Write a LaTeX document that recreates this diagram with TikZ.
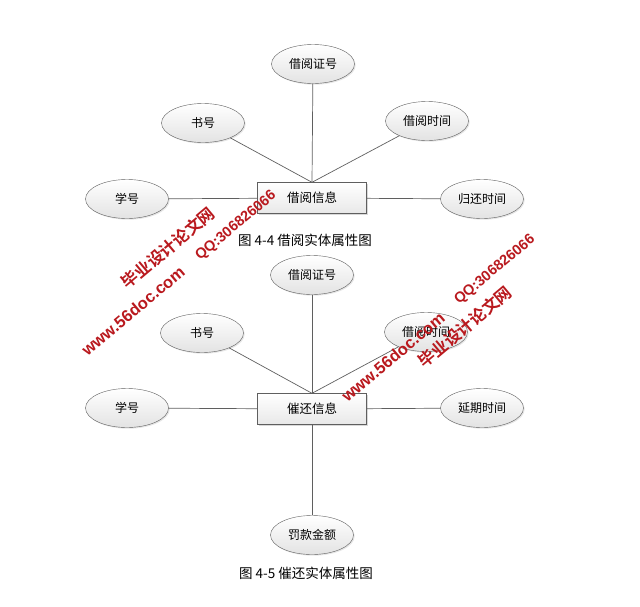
\documentclass[tikz,border=0pt]{standalone}
\usepackage{fontspec}
\setmainfont{Noto Sans CJK SC}
\newfontfamily\wmcnfont{Noto Sans CJK SC Bold}
\newfontfamily\wmenfont{Liberation Sans Bold}
\usetikzlibrary{shapes.geometric,shadows}
\definecolor{wmred}{RGB}{185,25,30}
\definecolor{edgegray}{RGB}{95,95,95}
\begin{document}
\begin{tikzpicture}[x=1pt,y=-1pt,
  attr/.style={ellipse, draw=edgegray, top color=white, bottom color=gray!22,
    minimum width=83pt, minimum height=39pt, inner sep=0pt,
    font=\fontsize{12}{12}\selectfont,
    drop shadow={shadow xshift=1.2pt, shadow yshift=-1.2pt, opacity=0.2}},
  entity/.style={rectangle, draw=edgegray, top color=white, bottom color=gray!18,
    minimum width=109pt, minimum height=31pt, inner sep=0pt,
    font=\fontsize{12.5}{12.5}\selectfont,
    drop shadow={shadow xshift=1.5pt, shadow yshift=-1.5pt, opacity=0.3}},
  link/.style={draw=edgegray, line width=0.7pt},
  caption/.style={font=\fontsize{13.5}{13.5}\selectfont},
  wmcn/.style={text=wmred, rotate=40, font=\fontsize{16.5}{16.5}\selectfont\wmcnfont},
  wmen/.style={text=wmred, rotate=40, font=\fontsize{16.5}{16.5}\selectfont\wmenfont},
  wmqq/.style={text=wmred, rotate=40, font=\fontsize{14.5}{14.5}\selectfont\wmenfont}
]
  % page frame
  \useasboundingbox (0,0) rectangle (640,606);

  % Figure 4-4: borrowing entity
  \node[entity] (jyxx) at (312,198) {借阅信息};
  \node[attr] (jyzh1) at (313,64) {借阅证号};
  \node[attr] (sh1) at (203,123) {书号};
  \node[attr] (jysj1) at (427,121) {借阅时间};
  \node[attr] (xh1) at (127,199) {学号};
  \node[attr] (ghsj) at (482,199) {归还时间};

  \draw[link] (jyzh1) -- (jyxx.north);
  \draw[link] (sh1) -- (jyxx.north);
  \draw[link] (jysj1) -- (jyxx.north);
  \draw[link] (xh1) -- (jyxx);
  \draw[link] (ghsj) -- (jyxx);

  \node[caption] (cap1) at (305,240) {图 4-4 借阅实体属性图};

  % Figure 4-5: reminder entity
  \node[entity] (chxx) at (312,409) {催还信息};
  \node[attr] (jyzh2) at (312,275) {借阅证号};
  \node[attr] (sh2) at (202,333) {书号};
  \node[attr] (jysj2) at (426,332) {借阅时间};
  \node[attr] (xh2) at (127,408) {学号};
  \node[attr] (yqsj) at (482,408) {延期时间};
  \node[attr] (fkje) at (312,535) {罚款金额};

  \draw[link] (jyzh2) -- (chxx.north);
  \draw[link] (sh2) -- (chxx.north);
  \draw[link] (jysj2) -- (chxx.north);
  \draw[link] (xh2) -- (chxx);
  \draw[link] (yqsj) -- (chxx);
  \draw[link] (chxx) -- (fkje);

  \node[caption] (cap2) at (306,573) {图 4-5 催还实体属性图};

  % watermarks
  \node[wmcn] (wmcn1) at (168,248) {毕业设计论文网};
  \node[wmen] (wmen1) at (133,311) {www.56doc.com};
  \node[wmqq] (wmqq1) at (236,226) {QQ:306826066};
  \node[wmcn] (wmcn2) at (465,327) {毕业设计论文网};
  \node[wmen] (wmen2) at (393,357) {www.56doc.com};
  \node[wmqq] (wmqq2) at (495,270) {QQ:306826066};
\end{tikzpicture}
\end{document}
